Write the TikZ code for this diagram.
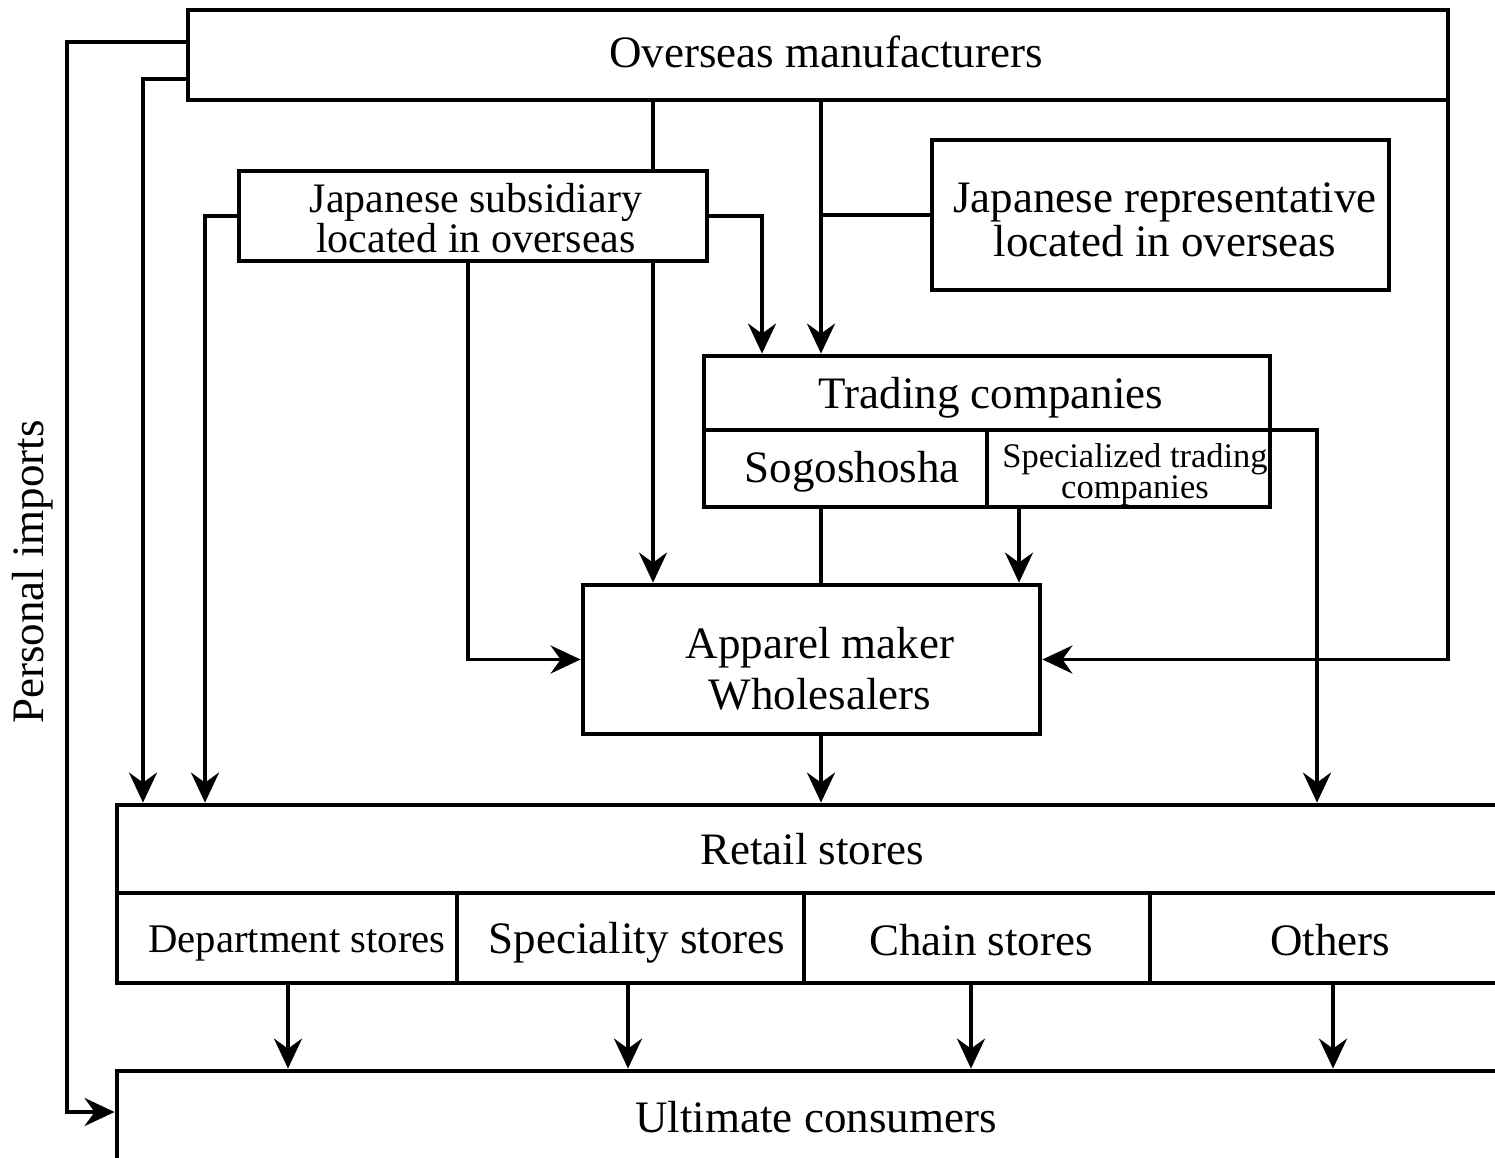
\documentclass[tikz,border=0pt]{standalone}
\usepackage{fontspec}
\setmainfont{Liberation Serif}
\usetikzlibrary{arrows.meta}
\begin{document}
\begin{tikzpicture}[x=1pt,y=-1pt,
  box/.style={draw, line width=4.8pt, rectangle, inner sep=0pt},
  lbl/.style={inner sep=0pt, align=center, font=\fontsize{45}{48}\selectfont},
  conn/.style={line width=3.9pt},
  arr/.style={conn, -{Stealth[length=30pt,width=28pt,inset=10pt]}}]
\useasboundingbox (0,0) rectangle (1495,1158);
\clip (0,0) rectangle (1495,1158);
% boxes
\node[box, minimum width=1260, minimum height=90] (over) at (818,55) {};
\node[box, minimum width=468, minimum height=90] (sub) at (473,216) {};
\node[box, minimum width=457, minimum height=150] (rep) at (1160.5,215) {};
\node[box, minimum width=566, minimum height=74] (trade) at (987,393) {};
\node[box, minimum width=283, minimum height=77] (sogo) at (845.5,468.5) {};
\node[box, minimum width=283, minimum height=77] (spec) at (1128.5,468.5) {};
\node[box, minimum width=457, minimum height=149] (app) at (811.5,659.5) {};
\node[box, minimum width=1390, minimum height=88] (retail) at (812,849) {};
\node[box, minimum width=340, minimum height=90] (dept) at (287,938) {};
\node[box, minimum width=347, minimum height=90] (spst) at (630.5,938) {};
\node[box, minimum width=346, minimum height=90] (chain) at (977,938) {};
\node[box, minimum width=360, minimum height=90] (oth) at (1330,938) {};
\node[box, minimum width=1398, minimum height=92] (ult) at (816,1117) {};
% labels
\node[lbl] (overT) at (826,52) {Overseas manufacturers};
\node[lbl, font=\fontsize{42}{40}\selectfont] (subT) at (476,218) {Japanese subsidiary\\located in overseas};
\node[lbl, font=\fontsize{45}{44}\selectfont] (repT) at (1165,220) {Japanese representative\\located in overseas};
\node[lbl] (tradeT) at (991,398) {Trading companies};
\node[lbl] (sogoT) at (852,472) {Sogoshosha};
\node[lbl, font=\fontsize{34.5}{30}\selectfont] (specT) at (1135,475) {Specialized trading\\companies};
\node[lbl, font=\fontsize{45}{51}\selectfont] (appT) at (820,669) {Apparel maker\\Wholesalers};
\node[lbl] (retailT) at (812,849) {Retail stores};
\node[lbl, font=\fontsize{40.7}{44}\selectfont] (deptT) at (297,943) {Department stores};
\node[lbl] (spstT) at (637,943) {Speciality stores};
\node[lbl] (chainT) at (981,940) {Chain stores};
\node[lbl] (othT) at (1330,940) {Others};
\node[lbl] (ultT) at (816,1117) {Ultimate consumers};
\node[lbl, rotate=90] (piT) at (33,572) {Personal imports};
% helper coordinates
\coordinate (pi1) at (67,42);
\coordinate (pi2) at (67,1112);
\coordinate (a1) at (143,79);
\coordinate (b1) at (205,216);
\coordinate (c1) at (468,0);
\coordinate (d1) at (653,0);
\coordinate (e1) at (762,0);
\coordinate (f1) at (821,0);
\coordinate (g1) at (1317,0);
\coordinate (h1) at (1019,0);
\coordinate (k1) at (288,0);
\coordinate (k2) at (628,0);
\coordinate (k3) at (971,0);
\coordinate (k4) at (1333,0);
% connectors
\draw[arr] (over.west |- pi1) -- (pi1) -- (pi2) -- (ult.west |- pi2);
\draw[arr] (over.west |- a1) -| (retail.north -| a1);
\draw[arr] (sub.west) -| (retail.north -| b1);
\draw[arr] (sub.south -| c1) |- (app.west);
\draw[conn] (over.south -| d1) -- (sub.north -| d1);
\draw[arr] (sub.south -| d1) -- (app.north -| d1);
\draw[arr] (sub.east) -| (trade.north -| e1);
\draw[arr] (over.south -| f1) -- (trade.north -| f1);
\draw[conn] (rep.west) -- (rep.west -| f1);
\draw[arr] ([xshift=-2.4pt,yshift=2.4pt]over.south east) |- (app.east);
\draw[arr] ([xshift=-2.4pt,yshift=2.4pt]trade.south east) -| (retail.north -| g1);
\draw[conn] (sogo.south -| f1) -- (app.north -| f1);
\draw[arr] (spec.south -| h1) -- (app.north -| h1);
\draw[arr] (app.south -| f1) -- (retail.north -| f1);
\draw[arr] (dept.south -| k1) -- (ult.north -| k1);
\draw[arr] (spst.south -| k2) -- (ult.north -| k2);
\draw[arr] (chain.south -| k3) -- (ult.north -| k3);
\draw[arr] (oth.south -| k4) -- (ult.north -| k4);
\end{tikzpicture}
\end{document}
